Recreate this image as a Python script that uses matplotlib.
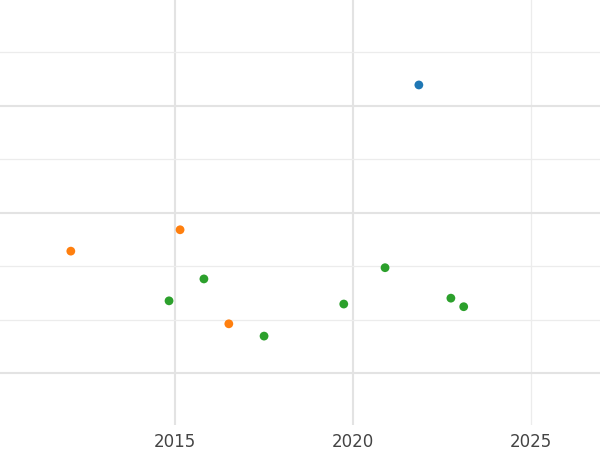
import numpy as np
from matplotlib import pyplot as plt

years_blue = [2021.85]
vals_blue = [5.39]
years_orange = [2012.07, 2015.14, 2016.51]
vals_orange = [2.28, 2.68, 0.92]
years_green = [2014.83, 2015.81, 2017.5, 2019.74, 2020.9, 2022.75, 2023.11]
vals_green = [1.35, 1.76, 0.69, 1.29, 1.97, 1.40, 1.24]

fig = plt.figure(figsize=(6, 4.5), dpi=100)
ax = fig.add_axes([0, 0.056, 1, 0.944])

ax.scatter(years_blue, vals_blue, color='#1f77b4', s=40, zorder=3, edgecolors='none')
ax.scatter(years_orange, vals_orange, color='#ff7f0e', s=40, zorder=3, edgecolors='none')
ax.scatter(years_green, vals_green, color='#2ca02c', s=40, zorder=3, edgecolors='none')

ax.set_xlim(2010.08, 2026.94)
ax.set_ylim(-0.97, 6.98)
ax.set_xticks([2015, 2020, 2025])
ax.set_yticks(range(0, 7))
ax.set_yticklabels([])
ax.tick_params(length=0, labelsize=12, labelcolor='#444444', pad=6)

# heavier and lighter grid lines, as in the reference
for x in [2015, 2020]:
    ax.axvline(x, color='#e3e3e3', linewidth=1.5, zorder=0)
ax.axvline(2025, color='#ececec', linewidth=0.9, zorder=0)
for y in [0, 3, 5]:
    ax.axhline(y, color='#e3e3e3', linewidth=1.5, zorder=0)
for y in [1, 2, 4, 6]:
    ax.axhline(y, color='#ececec', linewidth=0.9, zorder=0)

for s in ax.spines.values():
    s.set_visible(False)

fig.savefig('out.png', dpi=100)
